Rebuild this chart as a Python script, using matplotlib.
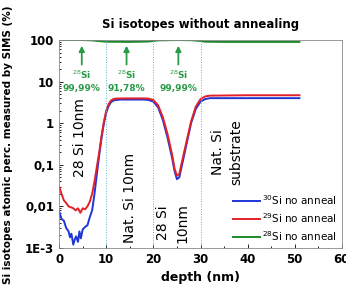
import numpy as np
import matplotlib.pyplot as plt
from matplotlib.ticker import FixedLocator, FixedFormatter, LogLocator, NullFormatter

# --------------------------------
# Data
# --------------------------------
x_blue = [0, 0.5, 1, 1.5, 2, 2.3, 2.6, 3, 3.3, 3.6, 4, 4.3, 4.6, 5, 5.5, 6, 6.5,
          7, 7.5, 8, 8.5, 9, 9.5, 10, 10.5, 11, 11.5, 12, 13, 14, 16, 18, 19, 20,
          21, 22, 23, 24, 24.5, 25, 25.5, 26, 27, 28, 29, 30, 31, 32, 34, 40, 45, 51]
si30 = [0.0075, 0.005, 0.0045, 0.003, 0.0025, 0.0018, 0.0022, 0.0012, 0.0016,
        0.0019, 0.0014, 0.0025, 0.0017, 0.0028, 0.0032, 0.0035, 0.0055, 0.008,
        0.02, 0.06, 0.17, 0.45, 1.0, 1.8, 2.6, 3.2, 3.5, 3.6, 3.7, 3.7, 3.7, 3.7,
        3.6, 3.3, 2.4, 1.2, 0.45, 0.14, 0.07, 0.045, 0.05, 0.09, 0.3, 1.0, 2.2,
        3.3, 3.8, 4.0, 4.0, 4.0, 4.0, 4.0]

x_red = [0, 0.5, 1, 1.5, 2, 2.5, 3, 3.5, 4, 4.5, 5, 5.5, 6, 6.5, 7, 7.5, 8, 8.5,
         9, 9.5, 10, 10.5, 11, 11.5, 12, 14, 16, 18, 19, 20, 21, 22, 23, 24, 24.5,
         25, 25.5, 26, 27, 28, 29, 30, 31, 32, 40, 51]
si29 = [0.03, 0.02, 0.014, 0.012, 0.01, 0.0095, 0.009, 0.008, 0.009, 0.007, 0.009,
        0.0085, 0.01, 0.013, 0.02, 0.04, 0.09, 0.2, 0.5, 1.1, 2.0, 2.9, 3.5, 3.8,
        3.9, 3.95, 3.95, 3.95, 3.9, 3.6, 2.7, 1.4, 0.55, 0.17, 0.08, 0.055, 0.06,
        0.11, 0.35, 1.1, 2.5, 3.8, 4.4, 4.6, 4.7, 4.7]

x_green = [0, 5, 7, 9, 10, 15, 19, 21, 25, 28, 30, 31, 35, 51]
si28 = [99.99, 100, 98, 93, 91, 90, 92, 98, 100, 99, 95, 91, 90, 90]

arrow_x = [4.8, 14.3, 25.3]
arrow_txt = ["99,99%", "91,78%", "99,99%"]

y_ticks = [1e-3, 1e-2, 1e-1, 1, 10, 100]
y_labels = ["1E-3", "0,01", "0,1", "1", "10", "100"]

# --------------------------------
# Plot
# --------------------------------
fig = plt.figure(figsize=(3.46, 2.90), dpi=100)
ax = fig.add_axes([0.171, 0.145, 0.817, 0.717])

ax.plot(x_blue, si30, color="#1f35d6", lw=1.4, label="$^{30}$Si no anneal")
ax.plot(x_red, si29, color="#e3202a", lw=1.4, label="$^{29}$Si no anneal")
ax.plot(x_green, si28, color="#1a8a2a", lw=1.4, label="$^{28}$Si no anneal")

for xv in [10, 20, 30]:
    ax.axvline(xv, color="#5fb0c8", lw=0.7, ls=":")

green = "#2a9a48"
for xa, t in zip(arrow_x, arrow_txt):
    ax.annotate("", xy=(xa, 85), xytext=(xa, 22),
                arrowprops=dict(arrowstyle="-|>", color=green, lw=1.3, mutation_scale=8))
    ax.text(xa, 14.5, "$^{28}$Si", color=green, fontsize=6.5, fontweight="bold",
            ha="center", va="center")
    ax.text(xa, 6.8, t, color=green, fontsize=6.5, fontweight="bold",
            ha="center", va="center")

ax.text(4.4, 0.45, "28 Si 10nm", rotation=90, fontsize=10, ha="center", va="center")
ax.text(15.0, 0.016, "Nat. Si 10nm", rotation=90, fontsize=10, ha="center", va="center")
ax.text(24.2, 0.004, "28 Si\n10nm", rotation=90, fontsize=10, ha="center",
        va="center", multialignment="center", linespacing=1.5)
ax.text(35.6, 0.2, "Nat. Si\nsubstrate", rotation=90, fontsize=10, ha="center",
        va="center", multialignment="center", linespacing=1.4)

ax.set_yscale("log")
ax.set_ylim(1e-3, 100)
ax.set_xlim(0, 60)
ax.yaxis.set_major_locator(FixedLocator(y_ticks))
ax.yaxis.set_major_formatter(FixedFormatter(y_labels))
ax.yaxis.set_minor_locator(LogLocator(base=10, subs=np.arange(2, 10)))
ax.yaxis.set_minor_formatter(NullFormatter())
ax.set_xticks([0, 10, 20, 30, 40, 50, 60])
ax.set_xticks([5, 15, 25, 35, 45, 55], minor=True)
ax.tick_params(which="both", direction="in", labelsize=8.5, width=0.6)
ax.tick_params(which="major", length=3)
ax.tick_params(which="minor", length=1.5)
for lab in ax.get_xticklabels() + ax.get_yticklabels():
    lab.set_fontweight("bold")
for sp in ax.spines.values():
    sp.set_color("#888888")
    sp.set_linewidth(0.6)

ax.set_xlabel("depth (nm)", fontsize=9, fontweight="bold", labelpad=4)
ax.set_title("Si isotopes without annealing", fontsize=8.5, fontweight="bold", pad=9)
fig.text(0.024, 0.5, "Si isotopes atomic perc. measured by SIMS (%)", rotation=90,
         fontsize=7.5, fontweight="bold", ha="center", va="center")

ax.legend(loc="lower right", frameon=False, fontsize=7.5, handlelength=2.6,
          handletextpad=0.2, labelspacing=0.4, borderaxespad=0.1)

fig.savefig("out.png", dpi=100)
